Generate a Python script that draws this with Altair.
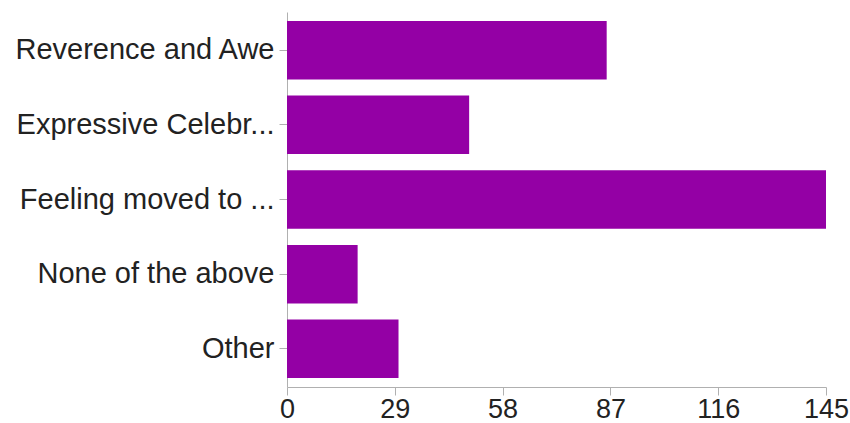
import altair as alt
import pandas as pd

categories = ["Reverence and Awe", "Expressive Celebr...", "Feeling moved to ...", "None of the above", "Other"]
values = [86, 49, 145, 19, 30]
x_ticks = [0, 29, 58, 87, 116, 145]

df = pd.DataFrame({"category": categories, "count": values})

chart = alt.Chart(df).mark_bar(color="#9400a5").encode(
    y=alt.Y("category:N", sort=categories, title=None,
            scale=alt.Scale(paddingInner=0.217, paddingOuter=0.12),
            axis=alt.Axis(labelFontSize=29, labelFont="Liberation Sans", labelColor="#222222",
                          domainColor="#b0b0b0", tickColor="#b0b0b0", tickSize=8,
                          labelPadding=5, labelLimit=300)),
    x=alt.X("count:Q", title=None,
            scale=alt.Scale(domain=[0, 145], nice=False),
            axis=alt.Axis(values=x_ticks, grid=False, labelFontSize=27, labelFont="Liberation Sans",
                          labelColor="#222222", domainColor="#b0b0b0", tickColor="#b0b0b0",
                          tickSize=8, labelPadding=22, labelBaseline="alphabetic", labelFlush=False)),
).properties(
    width=539, height=375,
    background="white",
    autosize=alt.AutoSizeParams(type="none"),
    padding={"left": 287, "top": 12, "right": 24, "bottom": 36},
).configure_view(stroke=None, strokeWidth=0)

chart.save("out.html", embed_options={"renderer": "svg", "actions": False})
